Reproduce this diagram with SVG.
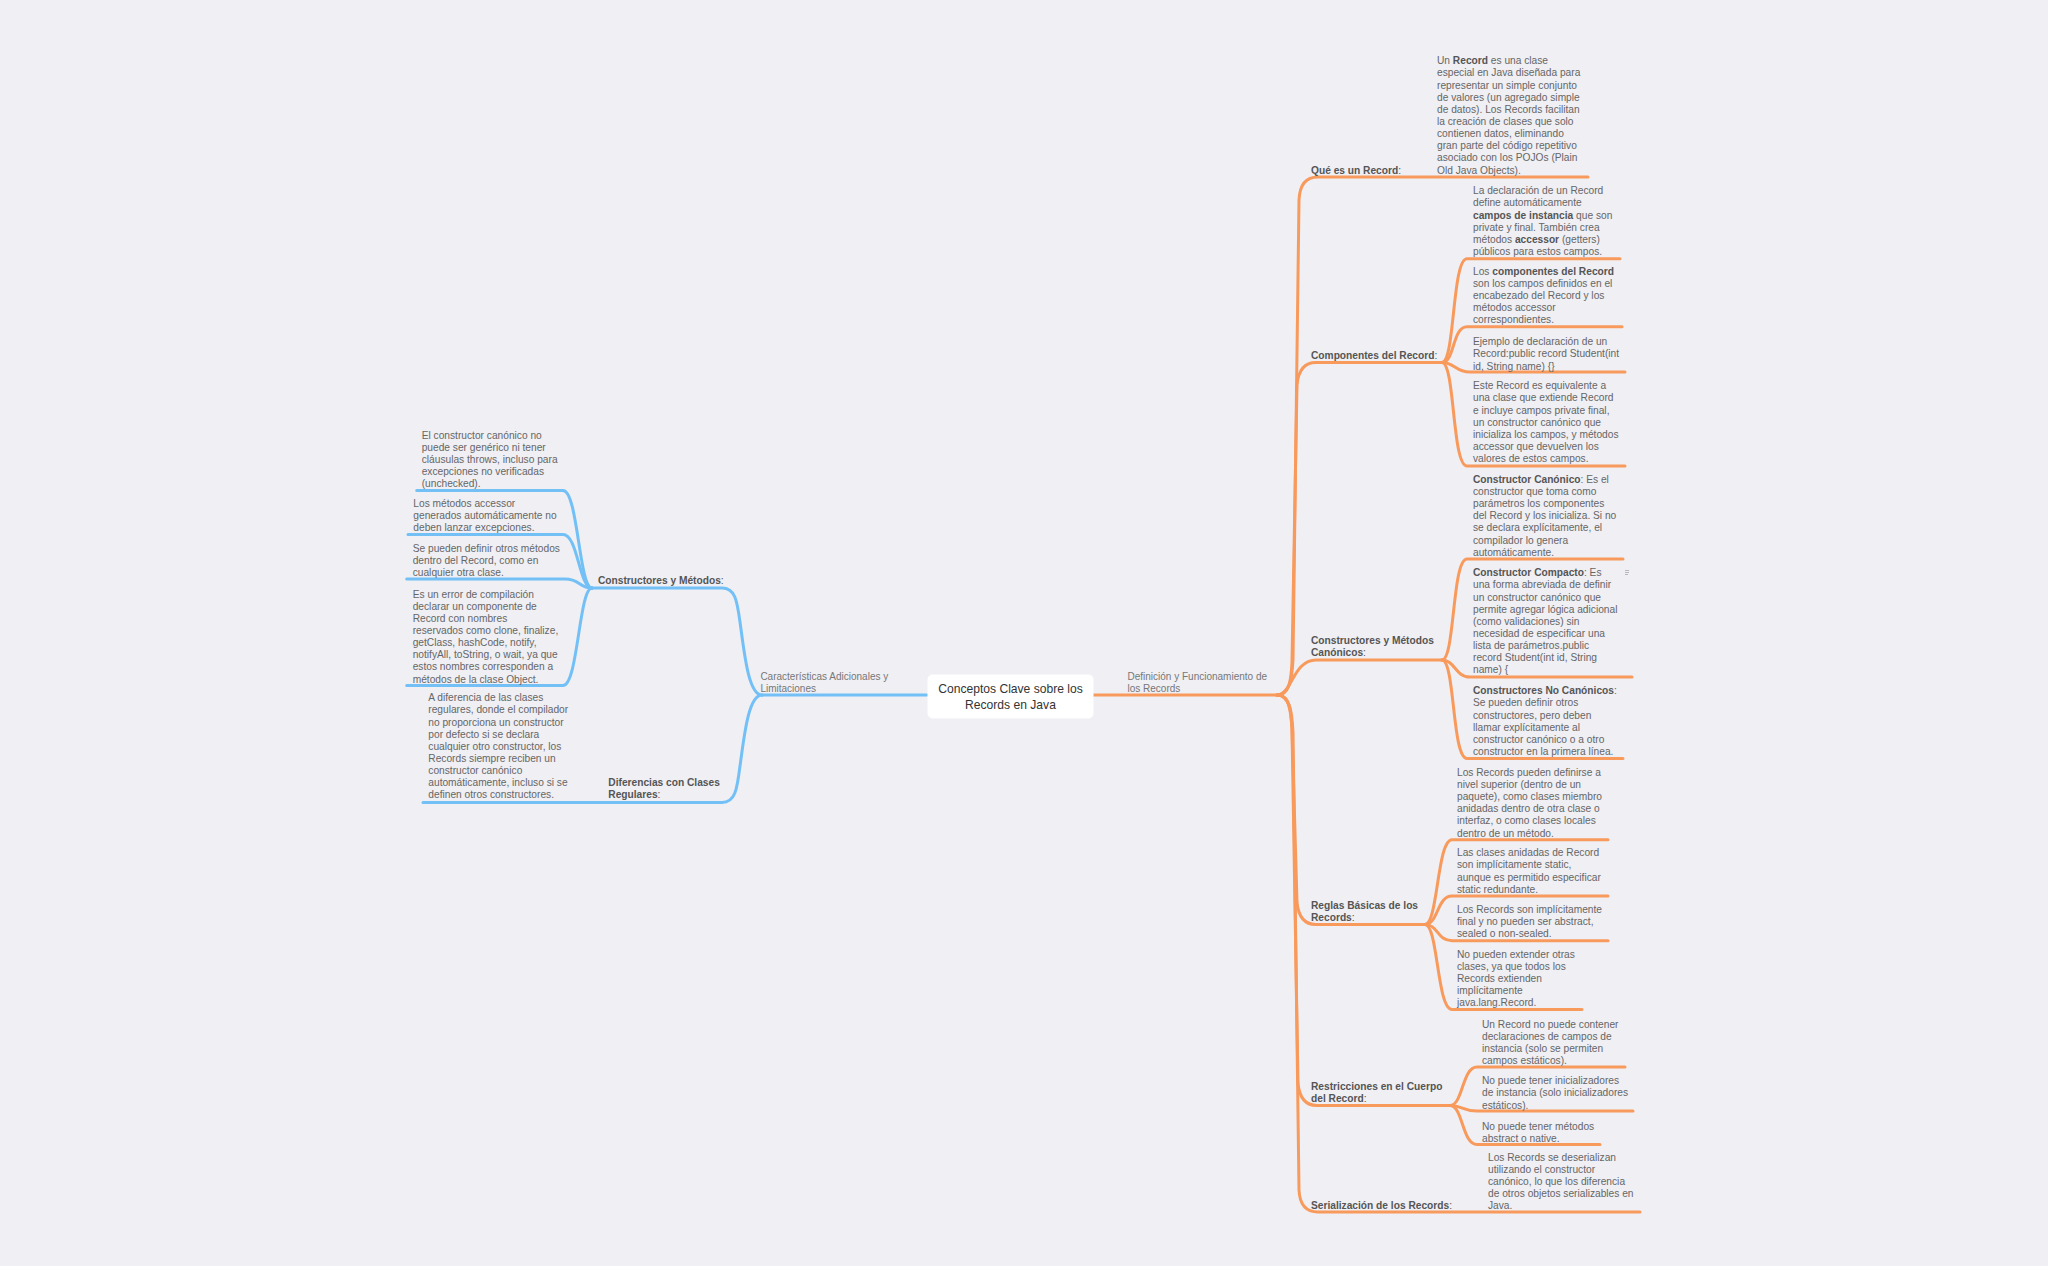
<svg xmlns="http://www.w3.org/2000/svg" width="2048" height="1266" viewBox="0 0 2048 1266">
<style>
.t{font-family:"Liberation Sans",Arial,Helvetica,sans-serif;font-size:10.2px;fill:#666}
.h{font-family:"Liberation Sans",Arial,Helvetica,sans-serif;font-size:10.2px;fill:#555}
.b{font-weight:bold;fill:#555}
.m{font-family:"Liberation Sans",Arial,Helvetica,sans-serif;font-size:10px;fill:#777}
.c{font-family:"Liberation Sans",Arial,Helvetica,sans-serif;font-size:12.1px;fill:#333}
.o{fill:none;stroke:#f89a5c;stroke-width:3;stroke-linecap:round;stroke-linejoin:round}
.bl{fill:none;stroke:#72c0f6;stroke-width:3;stroke-linecap:round;stroke-linejoin:round}
</style>
<rect x="0" y="0" width="2048" height="1266" fill="#efeff4"/>
<g id="connectors">
<path class="o" d="M1093,695 L1277,695"/>
<path class="o" d="M1277,695 C1289,695 1292,680 1293,660 L1299,200 Q1300,177 1318,177 L1588,177"/>
<path class="o" d="M1277,695 C1289,695 1291,682 1292,662 L1297,385 Q1299,362.5 1316,362.5 L1442,362.5"/>
<path class="o" d="M1277,695 C1292,695 1293,660 1316,660 L1442,660"/>
<path class="o" d="M1277,695 C1289,695 1291,708 1292,728 L1297,902 Q1299,924.5 1316,924.5 L1425,924.5"/>
<path class="o" d="M1277,695 C1289,695 1291,710 1292,730 L1298,1083 Q1300,1105.5 1317,1105.5 L1450,1105.5"/>
<path class="o" d="M1277,695 C1290,695 1292,712 1293,732 L1299,1190 Q1300,1212 1318,1212 L1640,1212"/>
<path class="o" d="M1442,362.5 C1455,362.5 1452,258.7 1467,258.7 L1620,258.7"/>
<path class="o" d="M1442,362.5 C1455,362.5 1452,326.7 1467,326.7 L1622,326.7"/>
<path class="o" d="M1442,362.5 C1455,362.5 1455,372 1470,372 L1625,372"/>
<path class="o" d="M1442,362.5 C1455,362.5 1452,466 1467,466 L1625,466"/>
<path class="o" d="M1442,660 C1455,660 1452,559 1467,559 L1623,559"/>
<path class="o" d="M1442,660 C1455,660 1455,677 1470,677 L1632,677"/>
<path class="o" d="M1442,660 C1455,660 1452,758.5 1467,758.5 L1623,758.5"/>
<path class="o" d="M1425,924.5 C1438,924.5 1437,839.8 1452,839.8 L1608,839.8"/>
<path class="o" d="M1425,924.5 C1438,924.5 1437,896 1452,896 L1608,896"/>
<path class="o" d="M1425,924.5 C1438,924.5 1437,940.7 1452,940.7 L1608,940.7"/>
<path class="o" d="M1425,924.5 C1438,924.5 1437,1009.5 1452,1009.5 L1582,1009.5"/>
<path class="o" d="M1450,1105.5 C1463,1105.5 1462,1067 1477,1067 L1625,1067"/>
<path class="o" d="M1450,1105.5 C1463,1105.5 1462,1111 1477,1111 L1633,1111"/>
<path class="o" d="M1450,1105.5 C1463,1105.5 1462,1144.5 1477,1144.5 L1600,1144.5"/>
<path class="bl" d="M927,695 L762,695"/>
<path class="bl" d="M762,695 C748,695 744,650 740,622 C737,600 735,588 722,588 L592,588"/>
<path class="bl" d="M762,695 C748,695 744,738 740,766 C737,790 735,802.5 722,802.5 L423,802.5"/>
<path class="bl" d="M592,588 C579,588 578,490.5 563,490.5 L416.7,490.5"/>
<path class="bl" d="M592,588 C579,588 578,534.5 563,534.5 L408,534.5"/>
<path class="bl" d="M592,588 C579,588 580,579 565,579 L406.7,579"/>
<path class="bl" d="M592,588 C579,588 578,685.5 563,685.5 L406.7,685.5"/>
</g>
<g id="root">
<rect x="927.5" y="674.5" width="166" height="44" rx="5" fill="#ffffff"/>
<text class="c" text-anchor="middle"><tspan x="1010.5" y="693">Conceptos Clave sobre los</tspan><tspan x="1010.5" y="708.5">Records en Java</tspan></text>
</g>
<g id="n-definicion">
<text class="m"><tspan x="1127.5" y="680">Definición y Funcionamiento de</tspan><tspan x="1127.5" y="691.7">los Records</tspan></text>
</g>
<g id="n-caracteristicas">
<text class="m"><tspan x="760.4" y="680">Características Adicionales y</tspan><tspan x="760.4" y="691.7">Limitaciones</tspan></text>
</g>
<g id="n-que">
<text class="h" x="1311" y="173.6"><tspan class="b">Qué es un Record</tspan>:</text>
</g>
<g id="n-que-1">
<text class="t"><tspan x="1437" y="64.2">Un <tspan class="b">Record</tspan> es una clase</tspan><tspan x="1437" dy="12.15">especial en Java diseñada para</tspan><tspan x="1437" dy="12.15">representar un simple conjunto</tspan><tspan x="1437" dy="12.15">de valores (un agregado simple</tspan><tspan x="1437" dy="12.15">de datos). Los Records facilitan</tspan><tspan x="1437" dy="12.15">la creación de clases que solo</tspan><tspan x="1437" dy="12.15">contienen datos, eliminando</tspan><tspan x="1437" dy="12.15">gran parte del código repetitivo</tspan><tspan x="1437" dy="12.15">asociado con los POJOs (Plain</tspan><tspan x="1437" dy="12.15">Old Java Objects).</tspan></text>
</g>
<g id="n-componentes">
<text class="h" x="1311" y="359"><tspan class="b">Componentes del Record</tspan>:</text>
</g>
<g id="n-comp-1">
<text class="t"><tspan x="1473" y="194.2">La declaración de un Record</tspan><tspan x="1473" dy="12.15">define automáticamente</tspan><tspan x="1473" dy="12.15"><tspan class="b">campos de instancia</tspan> que son</tspan><tspan x="1473" dy="12.15">private y final. También crea</tspan><tspan x="1473" dy="12.15">métodos <tspan class="b">accessor</tspan> (getters)</tspan><tspan x="1473" dy="12.15">públicos para estos campos.</tspan></text>
</g>
<g id="n-comp-2">
<text class="t"><tspan x="1473" y="274.5">Los <tspan class="b">componentes del Record</tspan></tspan><tspan x="1473" dy="12.15">son los campos definidos en el</tspan><tspan x="1473" dy="12.15">encabezado del Record y los</tspan><tspan x="1473" dy="12.15">métodos accessor</tspan><tspan x="1473" dy="12.15">correspondientes.</tspan></text>
</g>
<g id="n-comp-3">
<text class="t"><tspan x="1473" y="345.2">Ejemplo de declaración de un</tspan><tspan x="1473" dy="12.15">Record:public record Student(int</tspan><tspan x="1473" dy="12.15">id, String name) {}</tspan></text>
</g>
<g id="n-comp-4">
<text class="t"><tspan x="1473" y="389.2">Este Record es equivalente a</tspan><tspan x="1473" dy="12.15">una clase que extiende Record</tspan><tspan x="1473" dy="12.15">e incluye campos private final,</tspan><tspan x="1473" dy="12.15">un constructor canónico que</tspan><tspan x="1473" dy="12.15">inicializa los campos, y métodos</tspan><tspan x="1473" dy="12.15">accessor que devuelven los</tspan><tspan x="1473" dy="12.15">valores de estos campos.</tspan></text>
</g>
<g id="n-canonicos">
<text class="h"><tspan x="1311" y="643.5"><tspan class="b">Constructores y Métodos</tspan></tspan><tspan x="1311" dy="12.15"><tspan class="b">Canónicos</tspan>:</tspan></text>
</g>
<g id="n-can-1">
<text class="t"><tspan x="1473" y="482.8"><tspan class="b">Constructor Canónico</tspan>: Es el</tspan><tspan x="1473" dy="12.15">constructor que toma como</tspan><tspan x="1473" dy="12.15">parámetros los componentes</tspan><tspan x="1473" dy="12.15">del Record y los inicializa. Si no</tspan><tspan x="1473" dy="12.15">se declara explícitamente, el</tspan><tspan x="1473" dy="12.15">compilador lo genera</tspan><tspan x="1473" dy="12.15">automáticamente.</tspan></text>
</g>
<g id="n-can-2">
<text class="t"><tspan x="1473" y="576.2"><tspan class="b">Constructor Compacto</tspan>: Es</tspan><tspan x="1473" dy="12.15">una forma abreviada de definir</tspan><tspan x="1473" dy="12.15">un constructor canónico que</tspan><tspan x="1473" dy="12.15">permite agregar lógica adicional</tspan><tspan x="1473" dy="12.15">(como validaciones) sin</tspan><tspan x="1473" dy="12.15">necesidad de especificar una</tspan><tspan x="1473" dy="12.15">lista de parámetros.public</tspan><tspan x="1473" dy="12.15">record Student(int id, String</tspan><tspan x="1473" dy="12.15">name) {</tspan></text>
<g fill="#b8b8bc"><rect x="1625" y="570" width="4" height="1"/><rect x="1625" y="572" width="4" height="1"/><rect x="1625" y="574" width="3" height="1"/></g>
</g>
<g id="n-can-3">
<text class="t"><tspan x="1473" y="694.2"><tspan class="b">Constructores No Canónicos</tspan>:</tspan><tspan x="1473" dy="12.15">Se pueden definir otros</tspan><tspan x="1473" dy="12.15">constructores, pero deben</tspan><tspan x="1473" dy="12.15">llamar explícitamente al</tspan><tspan x="1473" dy="12.15">constructor canónico o a otro</tspan><tspan x="1473" dy="12.15">constructor en la primera línea.</tspan></text>
</g>
<g id="n-reglas">
<text class="h"><tspan x="1311" y="909.2"><tspan class="b">Reglas Básicas de los</tspan></tspan><tspan x="1311" dy="12.15"><tspan class="b">Records</tspan>:</tspan></text>
</g>
<g id="n-reg-1">
<text class="t"><tspan x="1457" y="775.8">Los Records pueden definirse a</tspan><tspan x="1457" dy="12.15">nivel superior (dentro de un</tspan><tspan x="1457" dy="12.15">paquete), como clases miembro</tspan><tspan x="1457" dy="12.15">anidadas dentro de otra clase o</tspan><tspan x="1457" dy="12.15">interfaz, o como clases locales</tspan><tspan x="1457" dy="12.15">dentro de un método.</tspan></text>
</g>
<g id="n-reg-2">
<text class="t"><tspan x="1457" y="856.2">Las clases anidadas de Record</tspan><tspan x="1457" dy="12.15">son implícitamente static,</tspan><tspan x="1457" dy="12.15">aunque es permitido especificar</tspan><tspan x="1457" dy="12.15">static redundante.</tspan></text>
</g>
<g id="n-reg-3">
<text class="t"><tspan x="1457" y="912.8">Los Records son implícitamente</tspan><tspan x="1457" dy="12.15">final y no pueden ser abstract,</tspan><tspan x="1457" dy="12.15">sealed o non-sealed.</tspan></text>
</g>
<g id="n-reg-4">
<text class="t"><tspan x="1457" y="957.5">No pueden extender otras</tspan><tspan x="1457" dy="12.15">clases, ya que todos los</tspan><tspan x="1457" dy="12.15">Records extienden</tspan><tspan x="1457" dy="12.15">implícitamente</tspan><tspan x="1457" dy="12.15">java.lang.Record.</tspan></text>
</g>
<g id="n-restricciones">
<text class="h"><tspan x="1311" y="1090.2"><tspan class="b">Restricciones en el Cuerpo</tspan></tspan><tspan x="1311" dy="12.15"><tspan class="b">del Record</tspan>:</tspan></text>
</g>
<g id="n-res-1">
<text class="t"><tspan x="1482" y="1027.5">Un Record no puede contener</tspan><tspan x="1482" dy="12.15">declaraciones de campos de</tspan><tspan x="1482" dy="12.15">instancia (solo se permiten</tspan><tspan x="1482" dy="12.15">campos estáticos).</tspan></text>
</g>
<g id="n-res-2">
<text class="t"><tspan x="1482" y="1084.2">No puede tener inicializadores</tspan><tspan x="1482" dy="12.15">de instancia (solo inicializadores</tspan><tspan x="1482" dy="12.15">estáticos).</tspan></text>
</g>
<g id="n-res-3">
<text class="t"><tspan x="1482" y="1129.5">No puede tener métodos</tspan><tspan x="1482" dy="12.15">abstract o native.</tspan></text>
</g>
<g id="n-serializacion">
<text class="h" x="1311" y="1209.2"><tspan class="b">Serialización de los Records</tspan>:</text>
</g>
<g id="n-ser-1">
<text class="t"><tspan x="1488" y="1160.6">Los Records se deserializan</tspan><tspan x="1488" dy="12.15">utilizando el constructor</tspan><tspan x="1488" dy="12.15">canónico, lo que los diferencia</tspan><tspan x="1488" dy="12.15">de otros objetos serializables en</tspan><tspan x="1488" dy="12.15">Java.</tspan></text>
</g>
<g id="n-cym">
<text class="h" x="598" y="583.5"><tspan class="b">Constructores y Métodos</tspan>:</text>
</g>
<g id="n-cym-1">
<text class="t"><tspan x="421.7" y="438.5">El constructor canónico no</tspan><tspan x="421.7" dy="12.15">puede ser genérico ni tener</tspan><tspan x="421.7" dy="12.15">cláusulas throws, incluso para</tspan><tspan x="421.7" dy="12.15">excepciones no verificadas</tspan><tspan x="421.7" dy="12.15">(unchecked).</tspan></text>
</g>
<g id="n-cym-2">
<text class="t"><tspan x="413.3" y="506.8">Los métodos accessor</tspan><tspan x="413.3" dy="12.15">generados automáticamente no</tspan><tspan x="413.3" dy="12.15">deben lanzar excepciones.</tspan></text>
</g>
<g id="n-cym-3">
<text class="t"><tspan x="412.7" y="551.8">Se pueden definir otros métodos</tspan><tspan x="412.7" dy="12.15">dentro del Record, como en</tspan><tspan x="412.7" dy="12.15">cualquier otra clase.</tspan></text>
</g>
<g id="n-cym-4">
<text class="t"><tspan x="412.7" y="597.5">Es un error de compilación</tspan><tspan x="412.7" dy="12.15">declarar un componente de</tspan><tspan x="412.7" dy="12.15">Record con nombres</tspan><tspan x="412.7" dy="12.15">reservados como clone, finalize,</tspan><tspan x="412.7" dy="12.15">getClass, hashCode, notify,</tspan><tspan x="412.7" dy="12.15">notifyAll, toString, o wait, ya que</tspan><tspan x="412.7" dy="12.15">estos nombres corresponden a</tspan><tspan x="412.7" dy="12.15">métodos de la clase Object.</tspan></text>
</g>
<g id="n-diferencias">
<text class="h"><tspan x="608.3" y="786.3"><tspan class="b">Diferencias con Clases</tspan></tspan><tspan x="608.3" dy="12.15"><tspan class="b">Regulares</tspan>:</tspan></text>
</g>
<g id="n-dif-1">
<text class="t"><tspan x="428.3" y="701.2">A diferencia de las clases</tspan><tspan x="428.3" dy="12.15">regulares, donde el compilador</tspan><tspan x="428.3" dy="12.15">no proporciona un constructor</tspan><tspan x="428.3" dy="12.15">por defecto si se declara</tspan><tspan x="428.3" dy="12.15">cualquier otro constructor, los</tspan><tspan x="428.3" dy="12.15">Records siempre reciben un</tspan><tspan x="428.3" dy="12.15">constructor canónico</tspan><tspan x="428.3" dy="12.15">automáticamente, incluso si se</tspan><tspan x="428.3" dy="12.15">definen otros constructores.</tspan></text>
</g>
</svg>
